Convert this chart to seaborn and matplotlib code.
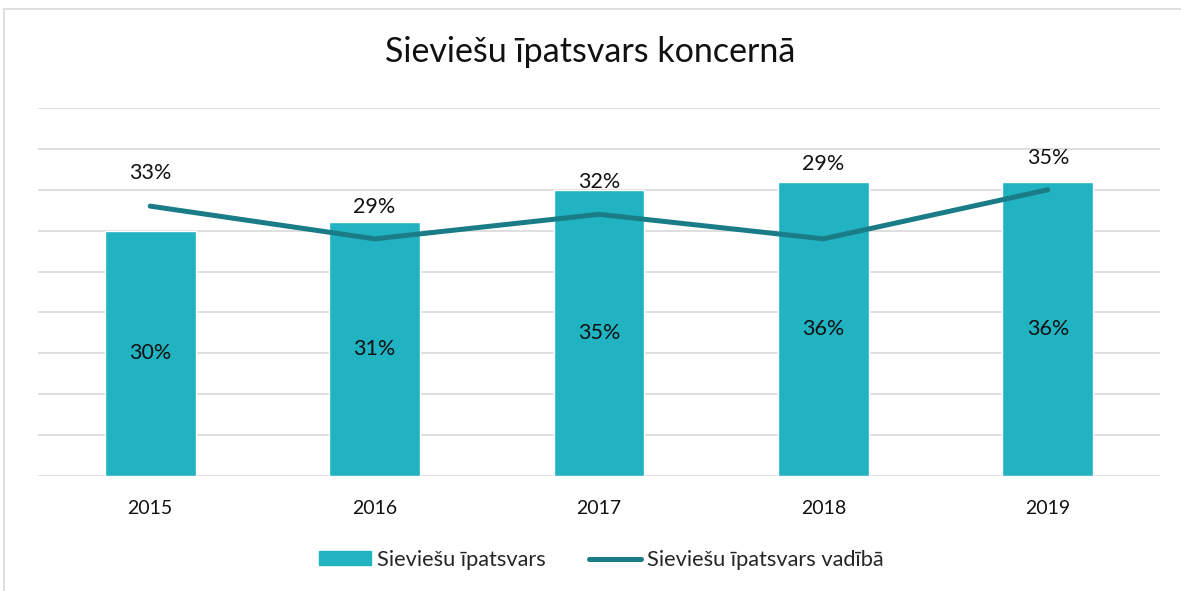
import pandas as pd
import matplotlib.pyplot as plt
import matplotlib.patches as mpatches
from matplotlib.lines import Line2D
import seaborn as sns

# dati
years = ['2015', '2016', '2017', '2018', '2019']
share_total = [30, 31, 35, 36, 36]      # Sieviešu īpatsvars
share_mgmt = [33, 29, 32, 29, 35]       # Sieviešu īpatsvars vadībā
mgmt_label_offset = [33, 32, 32, 75, 32]  # px virs līnijas punkta

bar_color = '#21B3C2'
line_color = '#1A7C87'

df = pd.DataFrame({'Gads': years, 'Kopā': share_total, 'Vadībā': share_mgmt})

sns.set_theme(style='white')
plt.rcParams['font.family'] = ['Lato', 'DejaVu Sans']

fig = plt.figure(figsize=(11.81, 5.91), dpi=100)
ax = fig.add_axes([38 / 1181, 1 - 476 / 591, (1160 - 38) / 1181, (476 - 108) / 591])

sns.barplot(data=df, x='Gads', y='Kopā', color=bar_color, width=0.405,
            saturation=1, ax=ax, zorder=3)
sns.pointplot(data=df, x='Gads', y='Vadībā', color=line_color, markers='',
              linewidth=3.6, ax=ax, zorder=4)
for ln in ax.lines:
    ln.set_solid_capstyle('round')
    ln.set_solid_joinstyle('round')

ax.set_ylim(0, 45)
ax.set_xlim(-0.5, 4.5)
ax.set_yticks(range(0, 50, 5))
ax.set_yticklabels([])
ax.tick_params(axis='y', length=0)
ax.tick_params(axis='x', length=0, labelsize=14, pad=17, colors='#111111')
ax.grid(axis='y', color='#D9D9D9', linewidth=1.2)
ax.set_axisbelow(True)
sns.despine(ax=ax, left=True, bottom=True)
ax.set_xlabel('')
ax.set_ylabel('')

# vērtību etiķetes
for i, v in enumerate(share_total):
    ax.text(i, v / 2, f'{v}%', ha='center', va='center', fontsize=15.5, color='#111111', zorder=5)
for i, v in enumerate(share_mgmt):
    ax.annotate(f'{v}%', (i, v), xytext=(0, mgmt_label_offset[i] * 0.72),
                textcoords='offset points', ha='center', va='center',
                fontsize=15.5, color='#111111', zorder=5)

fig.text(0.5, 1 - 52 / 591, 'Sieviešu īpatsvars koncernā', ha='center', va='center',
         fontsize=24.5, color='#111111')

handles = [mpatches.Patch(color=bar_color, label='Sieviešu īpatsvars'),
           Line2D([0], [0], color=line_color, linewidth=3.6, solid_capstyle='round',
                  label='Sieviešu īpatsvars vadībā')]
fig.legend(handles=handles, loc='center', bbox_to_anchor=(0.5 + 11 / 1181, 1 - 560 / 591), ncol=2,
           frameon=False, fontsize=15.7, handlelength=2.4, handleheight=0.6,
           handletextpad=0.27, columnspacing=1.97)

# rāmis ap diagrammu
fig.patches.append(mpatches.Rectangle((4 / 1181, -0.01), 1.2, 1 - 9 / 591 + 0.01,
                                      transform=fig.transFigure, fill=False,
                                      edgecolor='#D9D9D9', linewidth=1.2))

fig.savefig('out.png', dpi=100)
